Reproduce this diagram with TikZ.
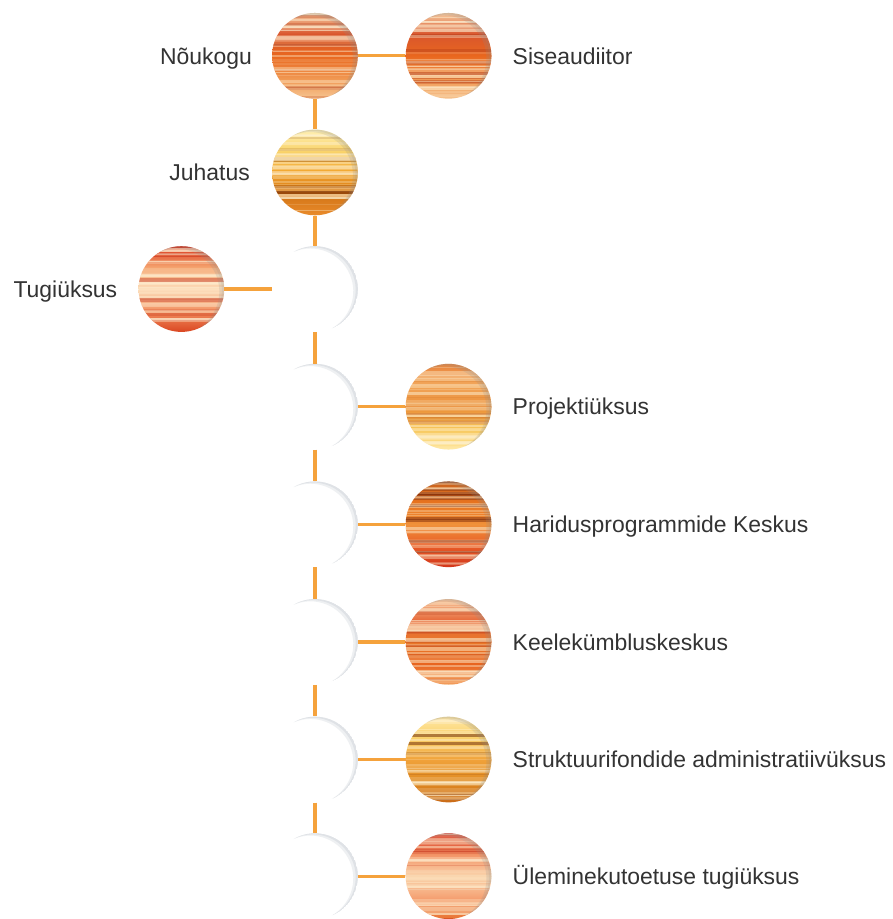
\documentclass[tikz,border=0pt]{standalone}
\usepackage{fontspec}
\setmainfont{Liberation Sans}
\usetikzlibrary{positioning}

\definecolor{linkorange}{HTML}{F5A23C}
\definecolor{labelgray}{HTML}{333333}
\definecolor{ghostgray}{HTML}{DFE2E6}
\definecolor{ghostlight}{HTML}{EEF0F2}
\definecolor{cream}{HTML}{FFF3D6}

% six colours of a ball: top to bottom, then its dark streak
\newcommand{\setpalette}[7]{%
  \definecolor{#1a}{HTML}{#2}\definecolor{#1b}{HTML}{#3}%
  \definecolor{#1c}{HTML}{#4}\definecolor{#1d}{HTML}{#5}%
  \definecolor{#1e}{HTML}{#6}\definecolor{#1f}{HTML}{#7}}
\setpalette{ember}{F7CFA4}{D9552C}{E9681F}{F09650}{F6C693}{B8401A}
\setpalette{gold}{FFF2B8}{F9D46C}{F2A32C}{D47516}{E98C2C}{7A3006}
\setpalette{goldb}{FFE8A6}{FAD06A}{F0A23A}{E08A22}{C86A18}{6A2605}
\setpalette{blush}{D93219}{F5A46F}{FCE0BE}{F28E5E}{D9431F}{C02A14}
\setpalette{blushb}{D42E1A}{F39466}{FAD6AE}{F5A072}{E8702F}{C02A14}
\setpalette{sunset}{E9833C}{F2A75B}{EA8D36}{F7C75C}{FFE9A2}{C8651C}
\setpalette{fire}{C8621E}{E8731F}{F0913A}{E85B27}{D2351B}{6A1E06}
\setpalette{coral}{F8CBA2}{E76A3A}{E9782A}{E8641F}{F3A262}{B83A18}

% thin moon on the upper right rim of a circle of radius 43pt
\newcommand{\crescent}[2]{%
  \fill[#1] (206.57+#2:43pt)
    arc[start angle=206.57+#2-360, end angle=206.57-#2, radius=43pt]
    arc[start angle=26.57+#2, end angle=26.57-#2, radius=43pt] -- cycle;}

\tikzset{
  link/.style={draw=linkorange, line width=3.2pt},
  txt/.style={inner sep=0pt, text=labelgray, font=\fontsize{23}{28}\selectfont,
    text height=16.6pt, text depth=0pt},
  ghost/.style={circle, minimum size=86pt, inner sep=0pt, fill=white,
    path picture={
      \begin{scope}[shift={(path picture bounding box.center)}, x=1pt, y=1pt]
        \crescent{ghostlight}{86.6}
        \crescent{ghostgray}{88.4}
      \end{scope}
    }},
  ball/.style 2 args={circle, minimum size=86pt, inner sep=0pt,
    path picture={
      \begin{scope}[shift={(path picture bounding box.center)}, x=1pt, y=1pt]
        \shade[top color=#1a, bottom color=#1c, middle color=#1b] (-44,44) rectangle (44,-0.5);
        \shade[top color=#1c, bottom color=#1e, middle color=#1d] (-44,0) rectangle (44,-44);
        \pgfmathsetseed{#2}
        \foreach \k in {1,...,40}{
          \pgfmathsetmacro\sy{44*rand}
          \pgfmathsetmacro\st{\sy+0.8+3*rnd}
          \pgfmathsetmacro\so{0.12+0.4*rnd}
          \pgfmathtruncatemacro\sc{random(0,4)}
          \ifnum\sc=0 \def\scol{#1f}\else\def\scol{cream}\fi
          \fill[\scol, opacity=\so] (-44,\sy) rectangle (44,\st);
        }
        \crescent{black!45, opacity=.18}{86.3}
        \crescent{black!45, opacity=.15}{88.2}
      \end{scope}
    }}
}

\begin{document}
\begin{tikzpicture}[x=1pt,y=-1pt]

\fill[white] (0,0) rectangle (895,919);

% top
\node[ball={ember}{11}] (noukogu) at (316,56) {};
\node[ball={ember}{27}] (siseaud) at (450,56) {};
\node[ball={gold}{5}] (juhatus) at (316,173) {};

% spine
\node[ghost] (h1) at (316,290) {};
\node[ghost] (h2) at (316,408) {};
\node[ghost] (h3) at (316,526) {};
\node[ghost] (h4) at (316,644) {};
\node[ghost] (h5) at (316,762) {};
\node[ghost] (h6) at (316,879) {};

% units
\node[ball={blush}{8}] (tugi) at (182,290) {};
\node[ball={sunset}{14}] (projekt) at (450,408) {};
\node[ball={fire}{21}] (haridus) at (450,526) {};
\node[ball={coral}{33}] (keele) at (450,644) {};
\node[ball={goldb}{42}] (struktuur) at (450,762) {};
\node[ball={blushb}{17}] (ylemineku) at (450,879) {};

% connectors
\draw[link] (noukogu) -- (siseaud);
\draw[link] (noukogu) -- (juhatus);
\draw[link] (juhatus) -- (h1);
\draw[link] (tugi) -- (h1);
\draw[link] (h1) -- (h2);
\draw[link] (h2) -- (h3);
\draw[link] (h3) -- (h4);
\draw[link] (h4) -- (h5);
\draw[link] (h5) -- (h6);
\draw[link] (h2) -- (projekt);
\draw[link] (h3) -- (haridus);
\draw[link] (h4) -- (keele);
\draw[link] (h5) -- (struktuur);
\draw[link] (h6) -- (ylemineku);

% labels
\node[txt, left=20pt of noukogu] (l-noukogu) {Nõukogu};
\node[txt, right=21pt of siseaud] (l-siseaud) {Siseaudiitor};
\node[txt, left=22pt of juhatus] (l-juhatus) {Juhatus};
\node[txt, left=21pt of tugi] (l-tugi) {Tugiüksus};
\node[txt, right=21pt of projekt] (l-projekt) {Projektiüksus};
\node[txt, right=21pt of haridus] (l-haridus) {Haridusprogrammide Keskus};
\node[txt, right=21pt of keele] (l-keele) {Keelekümbluskeskus};
\node[txt, right=21pt of struktuur] (l-struktuur) {Struktuurifondide administratiivüksus};
\node[txt, right=21pt of ylemineku] (l-ylemineku) {Üleminekutoetuse tugiüksus};

\end{tikzpicture}
\end{document}
